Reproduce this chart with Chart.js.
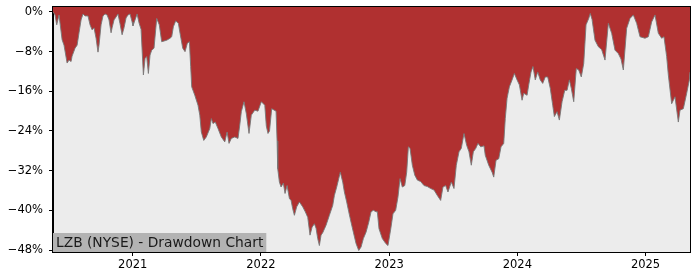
<!DOCTYPE html>
<html>
<head>
<meta charset="utf-8">
<script src="https://cdn.jsdelivr.net/npm/chart.js@4/dist/chart.umd.min.js"></script>
<style>
  html, body { margin: 0; padding: 0; background: #ffffff; }
  #wrap { position: relative; width: 700px; height: 280px; }
</style>
</head>
<body>
<div id="wrap"><canvas id="c" width="700" height="280"></canvas></div>
<script>
// Time as decimal years, drawdown in percent
const dates = [
  2020.378, 2020.394, 2020.407, 2020.425, 2020.449, 2020.464, 2020.488, 2020.503, 2020.519, 2020.527,
  2020.550, 2020.566, 2020.581, 2020.597, 2020.612, 2020.628, 2020.651, 2020.667, 2020.683, 2020.698,
  2020.714, 2020.729, 2020.737, 2020.753, 2020.768, 2020.784, 2020.800, 2020.815, 2020.831, 2020.839,
  2020.854, 2020.870, 2020.885, 2020.901, 2020.917, 2020.932, 2020.948, 2020.963, 2020.979, 2020.995,
  2021.002, 2021.018, 2021.034, 2021.049, 2021.065, 2021.083, 2021.096, 2021.109, 2021.122, 2021.135,
  2021.148, 2021.166, 2021.187, 2021.207, 2021.226, 2021.265, 2021.291, 2021.304, 2021.317, 2021.335,
  2021.356, 2021.369, 2021.390, 2021.408, 2021.426, 2021.442, 2021.452, 2021.460, 2021.484, 2021.509,
  2021.523, 2021.535, 2021.554, 2021.574, 2021.601, 2021.613, 2021.626, 2021.644, 2021.665, 2021.691,
  2021.718, 2021.736, 2021.751, 2021.769, 2021.796, 2021.821, 2021.835, 2021.847, 2021.868, 2021.886,
  2021.907, 2021.925, 2021.952, 2021.977, 2022.003, 2022.030, 2022.042, 2022.055, 2022.067, 2022.084,
  2022.118, 2022.126, 2022.131, 2022.144, 2022.157, 2022.175, 2022.188, 2022.204, 2022.222, 2022.235,
  2022.248, 2022.261, 2022.279, 2022.300, 2022.326, 2022.346, 2022.365, 2022.383, 2022.399, 2022.417,
  2022.430, 2022.443, 2022.456, 2022.469, 2022.482, 2022.508, 2022.534, 2022.560, 2022.573, 2022.591,
  2022.607, 2022.619, 2022.638, 2022.651, 2022.669, 2022.685, 2022.703, 2022.721, 2022.742, 2022.763,
  2022.781, 2022.799, 2022.820, 2022.841, 2022.859, 2022.877, 2022.898, 2022.908, 2022.921, 2022.947,
  2022.974, 2022.991, 2023.013, 2023.030, 2023.051, 2023.069, 2023.085, 2023.103, 2023.122, 2023.137,
  2023.150, 2023.163, 2023.181, 2023.200, 2023.220, 2023.246, 2023.272, 2023.298, 2023.324, 2023.350,
  2023.376, 2023.402, 2023.420, 2023.441, 2023.459, 2023.485, 2023.506, 2023.524, 2023.545, 2023.563,
  2023.584, 2023.605, 2023.623, 2023.641, 2023.657, 2023.676, 2023.693, 2023.715, 2023.740, 2023.750,
  2023.777, 2023.803, 2023.816, 2023.834, 2023.855, 2023.873, 2023.894, 2023.906, 2023.920, 2023.938,
  2023.959, 2023.977, 2023.998, 2024.016, 2024.037, 2024.050, 2024.076, 2024.089, 2024.107, 2024.122,
  2024.140, 2024.159, 2024.179, 2024.198, 2024.218, 2024.237, 2024.257, 2024.276, 2024.289, 2024.310,
  2024.328, 2024.349, 2024.370, 2024.388, 2024.406, 2024.421, 2024.440, 2024.460, 2024.479, 2024.499,
  2024.518, 2024.536, 2024.557, 2024.569, 2024.583, 2024.606, 2024.632, 2024.658, 2024.684, 2024.710,
  2024.736, 2024.762, 2024.788, 2024.809, 2024.827, 2024.853, 2024.879, 2024.905, 2024.931, 2024.957,
  2024.996, 2025.022, 2025.048, 2025.074, 2025.100, 2025.126, 2025.144, 2025.165, 2025.178, 2025.204,
  2025.230, 2025.256, 2025.269, 2025.295, 2025.321, 2025.342, 2025.347
];
const drawdown = [
  0.0, -0.6, -2.6, -0.6, -5.6, -6.7, -10.3, -9.7, -10.0, -8.9,
  -7.3, -6.7, -4.2, -1.6, -0.4, -0.8, -0.8, -2.6, -3.6, -3.2,
  -5.3, -8.1, -6.7, -2.6, -0.8, -0.4, -0.6, -1.6, -4.2, -3.2,
  -1.6, -1.0, -0.4, -2.4, -4.6, -3.2, -1.2, -0.6, -0.4, -2.0,
  -2.8, -1.6, -0.4, -2.2, -3.5, -12.7, -9.4, -9.0, -12.4, -8.7,
  -7.7, -7.3, -1.3, -2.6, -6.0, -5.7, -5.3, -5.0, -3.0, -1.8,
  -2.3, -4.3, -7.3, -8.0, -6.3, -6.0, -11.0, -15.1, -16.8, -18.8,
  -20.8, -24.2, -25.9, -25.2, -23.5, -21.5, -22.5, -22.2, -23.5, -25.2,
  -26.2, -24.2, -26.5, -25.5, -25.2, -25.5, -22.8, -20.1, -18.1, -20.5,
  -24.5, -20.8, -19.8, -20.0, -18.1, -18.8, -23.0, -24.5, -24.0, -19.5,
  -20.0, -26.0, -31.6, -34.3, -35.3, -34.5, -36.6, -35.0, -37.6, -38.0,
  -39.7, -41.0, -39.3, -38.3, -39.3, -40.3, -41.4, -45.0, -43.4, -42.7,
  -43.6, -45.7, -47.1, -45.0, -44.5, -43.0, -41.0, -39.0, -37.0, -35.3,
  -33.6, -32.3, -34.3, -36.3, -38.3, -40.3, -42.4, -44.4, -46.7, -48.1,
  -47.4, -45.7, -44.4, -42.4, -40.3, -40.0, -40.3, -40.3, -43.7, -45.7,
  -46.7, -47.1, -43.7, -40.7, -40.0, -37.3, -33.6, -35.3, -35.0, -32.3,
  -27.2, -27.5, -30.9, -32.9, -33.9, -34.2, -35.0, -35.2, -35.6, -35.9,
  -37.0, -38.0, -35.3, -35.0, -36.3, -34.3, -35.6, -30.9, -28.2, -27.5,
  -24.5, -26.9, -28.2, -30.9, -28.2, -27.5, -26.5, -27.2, -27.0, -28.9,
  -30.9, -32.3, -33.3, -29.9, -29.6, -27.2, -26.5, -21.5, -17.4, -15.1,
  -13.7, -12.4, -13.7, -14.7, -17.8, -16.4, -16.8, -14.7, -12.1, -11.0,
  -13.7, -12.1, -13.7, -14.4, -13.1, -13.1, -15.4, -18.8, -21.1, -20.1,
  -21.8, -18.1, -15.8, -15.8, -13.7, -15.4, -18.1, -11.4, -11.7, -13.1,
  -10.4, -2.6, -1.3, -0.3, -1.5, -5.7, -7.0, -7.6, -9.7, -2.3,
  -4.3, -7.7, -8.4, -9.5, -11.7, -3.3, -1.3, -0.6, -2.3, -5.0,
  -5.3, -5.0, -2.0, -0.6, -4.3, -5.3, -5.0, -9.0, -12.7, -18.5,
  -17.1, -22.2, -19.8, -19.5, -16.4, -13.7, -12.1
];
const xTickYears = [2021, 2022, 2023, 2024, 2025];
const yTickValues = [0, -8, -16, -24, -32, -40, -48];
const chartLabel = 'LZB (NYSE) - Drawdown Chart';

const points = dates.map((d, i) => ({ x: d, y: drawdown[i] }));

const bgPlugin = {
  id: 'bgPlugin',
  beforeDraw(chart) {
    const { ctx, chartArea: a } = chart;
    ctx.save();
    ctx.fillStyle = '#ececec';
    ctx.fillRect(a.left, a.top, a.right - a.left, a.bottom - a.top);
    ctx.restore();
  },
  afterDraw(chart) {
    const { ctx, chartArea: a } = chart;
    ctx.save();
    ctx.font = '13.8px "DejaVu Sans"';
    const w = ctx.measureText(chartLabel).width;
    ctx.fillStyle = '#b3b3b3';
    ctx.fillRect(a.left, a.bottom - 19, w + 6, 19);
    ctx.fillStyle = '#1a1a1a';
    ctx.textBaseline = 'alphabetic';
    ctx.fillText(chartLabel, a.left + 3, a.bottom - 5.5);
    ctx.strokeStyle = '#000000';
    ctx.lineWidth = 1;
    ctx.strokeRect(Math.round(a.left) - 0.5, Math.round(a.top) - 0.5,
      Math.round(a.right - a.left) + 1, Math.round(a.bottom - a.top) + 1);
    ctx.restore();
  }
};

new Chart(document.getElementById('c'), {
  type: 'line',
  data: {
    datasets: [{
      data: points,
      fill: 'end',
      backgroundColor: '#b03030',
      borderColor: 'rgba(120,120,120,0.9)',
      borderWidth: 1,
      pointRadius: 0,
      tension: 0
    }]
  },
  options: {
    responsive: false,
    animation: false,
    events: [],
    layout: { padding: { top: 7, right: 10, left: 0, bottom: 0 } },
    plugins: { legend: { display: false }, tooltip: { enabled: false }, title: { display: false } },
    scales: {
      x: {
        type: 'linear',
        min: 2020.378,
        max: 2025.347,
        afterBuildTicks: (s) => { s.ticks = xTickYears.map(v => ({ value: v })); },
        afterFit: (s) => { s.height = 28; s.paddingLeft = 0; s.paddingRight = 0; },
        ticks: {
          callback: (v) => String(v),
          color: '#000000',
          font: { family: 'DejaVu Sans', size: 11.5 },
          padding: 2,
          maxRotation: 0,
          autoSkip: false
        },
        grid: { drawOnChartArea: false, drawTicks: true, tickLength: 4, color: '#000000', lineWidth: 1 },
        border: { display: true, color: '#000000', width: 1 }
      },
      y: {
        type: 'linear',
        min: -48.4,
        max: 1.0,
        afterBuildTicks: (s) => { s.ticks = yTickValues.map(v => ({ value: v })); },
        afterFit: (s) => { s.width = 53; s.paddingTop = 0; s.paddingBottom = 0; },
        ticks: {
          callback: (v) => (v < 0 ? '\u2212' : '') + Math.abs(v) + '%',
          color: '#000000',
          font: { family: 'DejaVu Sans', size: 11.5 },
          padding: 6,
          autoSkip: false
        },
        grid: { drawOnChartArea: false, drawTicks: true, tickLength: 4, color: '#000000', lineWidth: 1 },
        border: { display: true, color: '#000000', width: 1 }
      }
    }
  },
  plugins: [bgPlugin]
});
</script>
</body>
</html>
